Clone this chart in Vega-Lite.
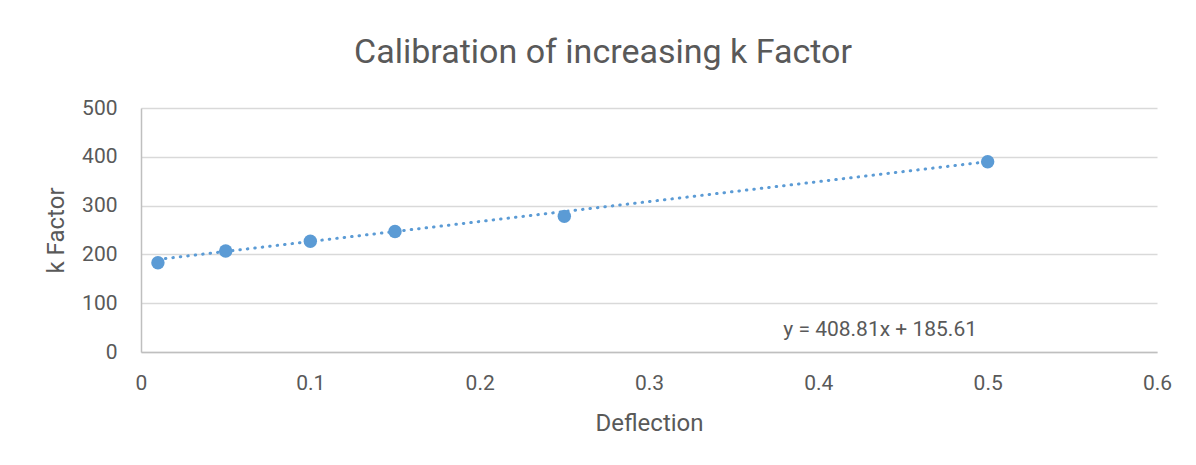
{
  "$schema": "https://vega.github.io/schema/vega-lite/v6.json",
  "autosize": "none",
  "padding": {"left": 141, "top": 108, "right": 39, "bottom": 113},
  "width": 1016,
  "height": 244,
  "background": "white",
  "title": {
    "text": "Calibration of increasing k Factor",
    "font": "Roboto",
    "fontSize": 34,
    "fontWeight": "normal",
    "color": "#595959",
    "anchor": "middle",
    "frame": "group",
    "baseline": "alphabetic",
    "dx": -46,
    "offset": 0
  },
  "datasets": {
    "points": [
      {"deflection": 0.01, "k": 183},
      {"deflection": 0.05, "k": 207},
      {"deflection": 0.10, "k": 227},
      {"deflection": 0.15, "k": 247},
      {"deflection": 0.25, "k": 278},
      {"deflection": 0.50, "k": 390}
    ],
    "trend": [
      {"deflection": 0.01, "k": 189.70},
      {"deflection": 0.50, "k": 390.02}
    ],
    "note": [
      {"deflection": 0.4365, "k": 45, "label": "y = 408.81x + 185.61"}
    ]
  },
  "config": {
    "view": {"stroke": null},
    "font": "Roboto",
    "axis": {
      "labelFont": "Roboto",
      "titleFont": "Roboto",
      "labelColor": "#595959",
      "titleColor": "#595959",
      "titleFontWeight": "normal",
      "labelFontSize": 21,
      "titleFontSize": 24,
      "ticks": false,
      "domainColor": "#bfbfbf",
      "domainWidth": 1.5,
      "gridColor": "#d9d9d9",
      "gridWidth": 1.5
    }
  },
  "layer": [
    {
      "data": {"name": "trend"},
      "mark": {"type": "line", "color": "#5B9BD5", "strokeWidth": 3, "strokeCap": "round", "strokeDash": [0.5, 7]},
      "encoding": {
        "x": {"field": "deflection", "type": "quantitative",
              "scale": {"domain": [0, 0.6], "nice": false, "zero": true},
              "axis": {"title": "Deflection", "values": [0, 0.1, 0.2, 0.3, 0.4, 0.5, 0.6], "format": "~g", "grid": false, "labelPadding": 20, "titlePadding": 18, "labelFlush": false}},
        "y": {"field": "k", "type": "quantitative",
              "scale": {"domain": [0, 500], "nice": false},
              "axis": {"title": "k Factor", "values": [0, 100, 200, 300, 400, 500], "grid": true, "labelPadding": 24, "titlePadding": 13}}
      }
    },
    {
      "data": {"name": "points"},
      "mark": {"type": "point", "shape": "circle", "filled": true, "opacity": 1, "color": "#5B9BD5", "size": 180},
      "encoding": {
        "x": {"field": "deflection", "type": "quantitative"},
        "y": {"field": "k", "type": "quantitative"}
      }
    },
    {
      "data": {"name": "note"},
      "mark": {"type": "text", "font": "Roboto", "fontSize": 21, "color": "#595959", "align": "center", "baseline": "middle"},
      "encoding": {
        "x": {"field": "deflection", "type": "quantitative"},
        "y": {"field": "k", "type": "quantitative"},
        "text": {"field": "label"}
      }
    }
  ]
}
